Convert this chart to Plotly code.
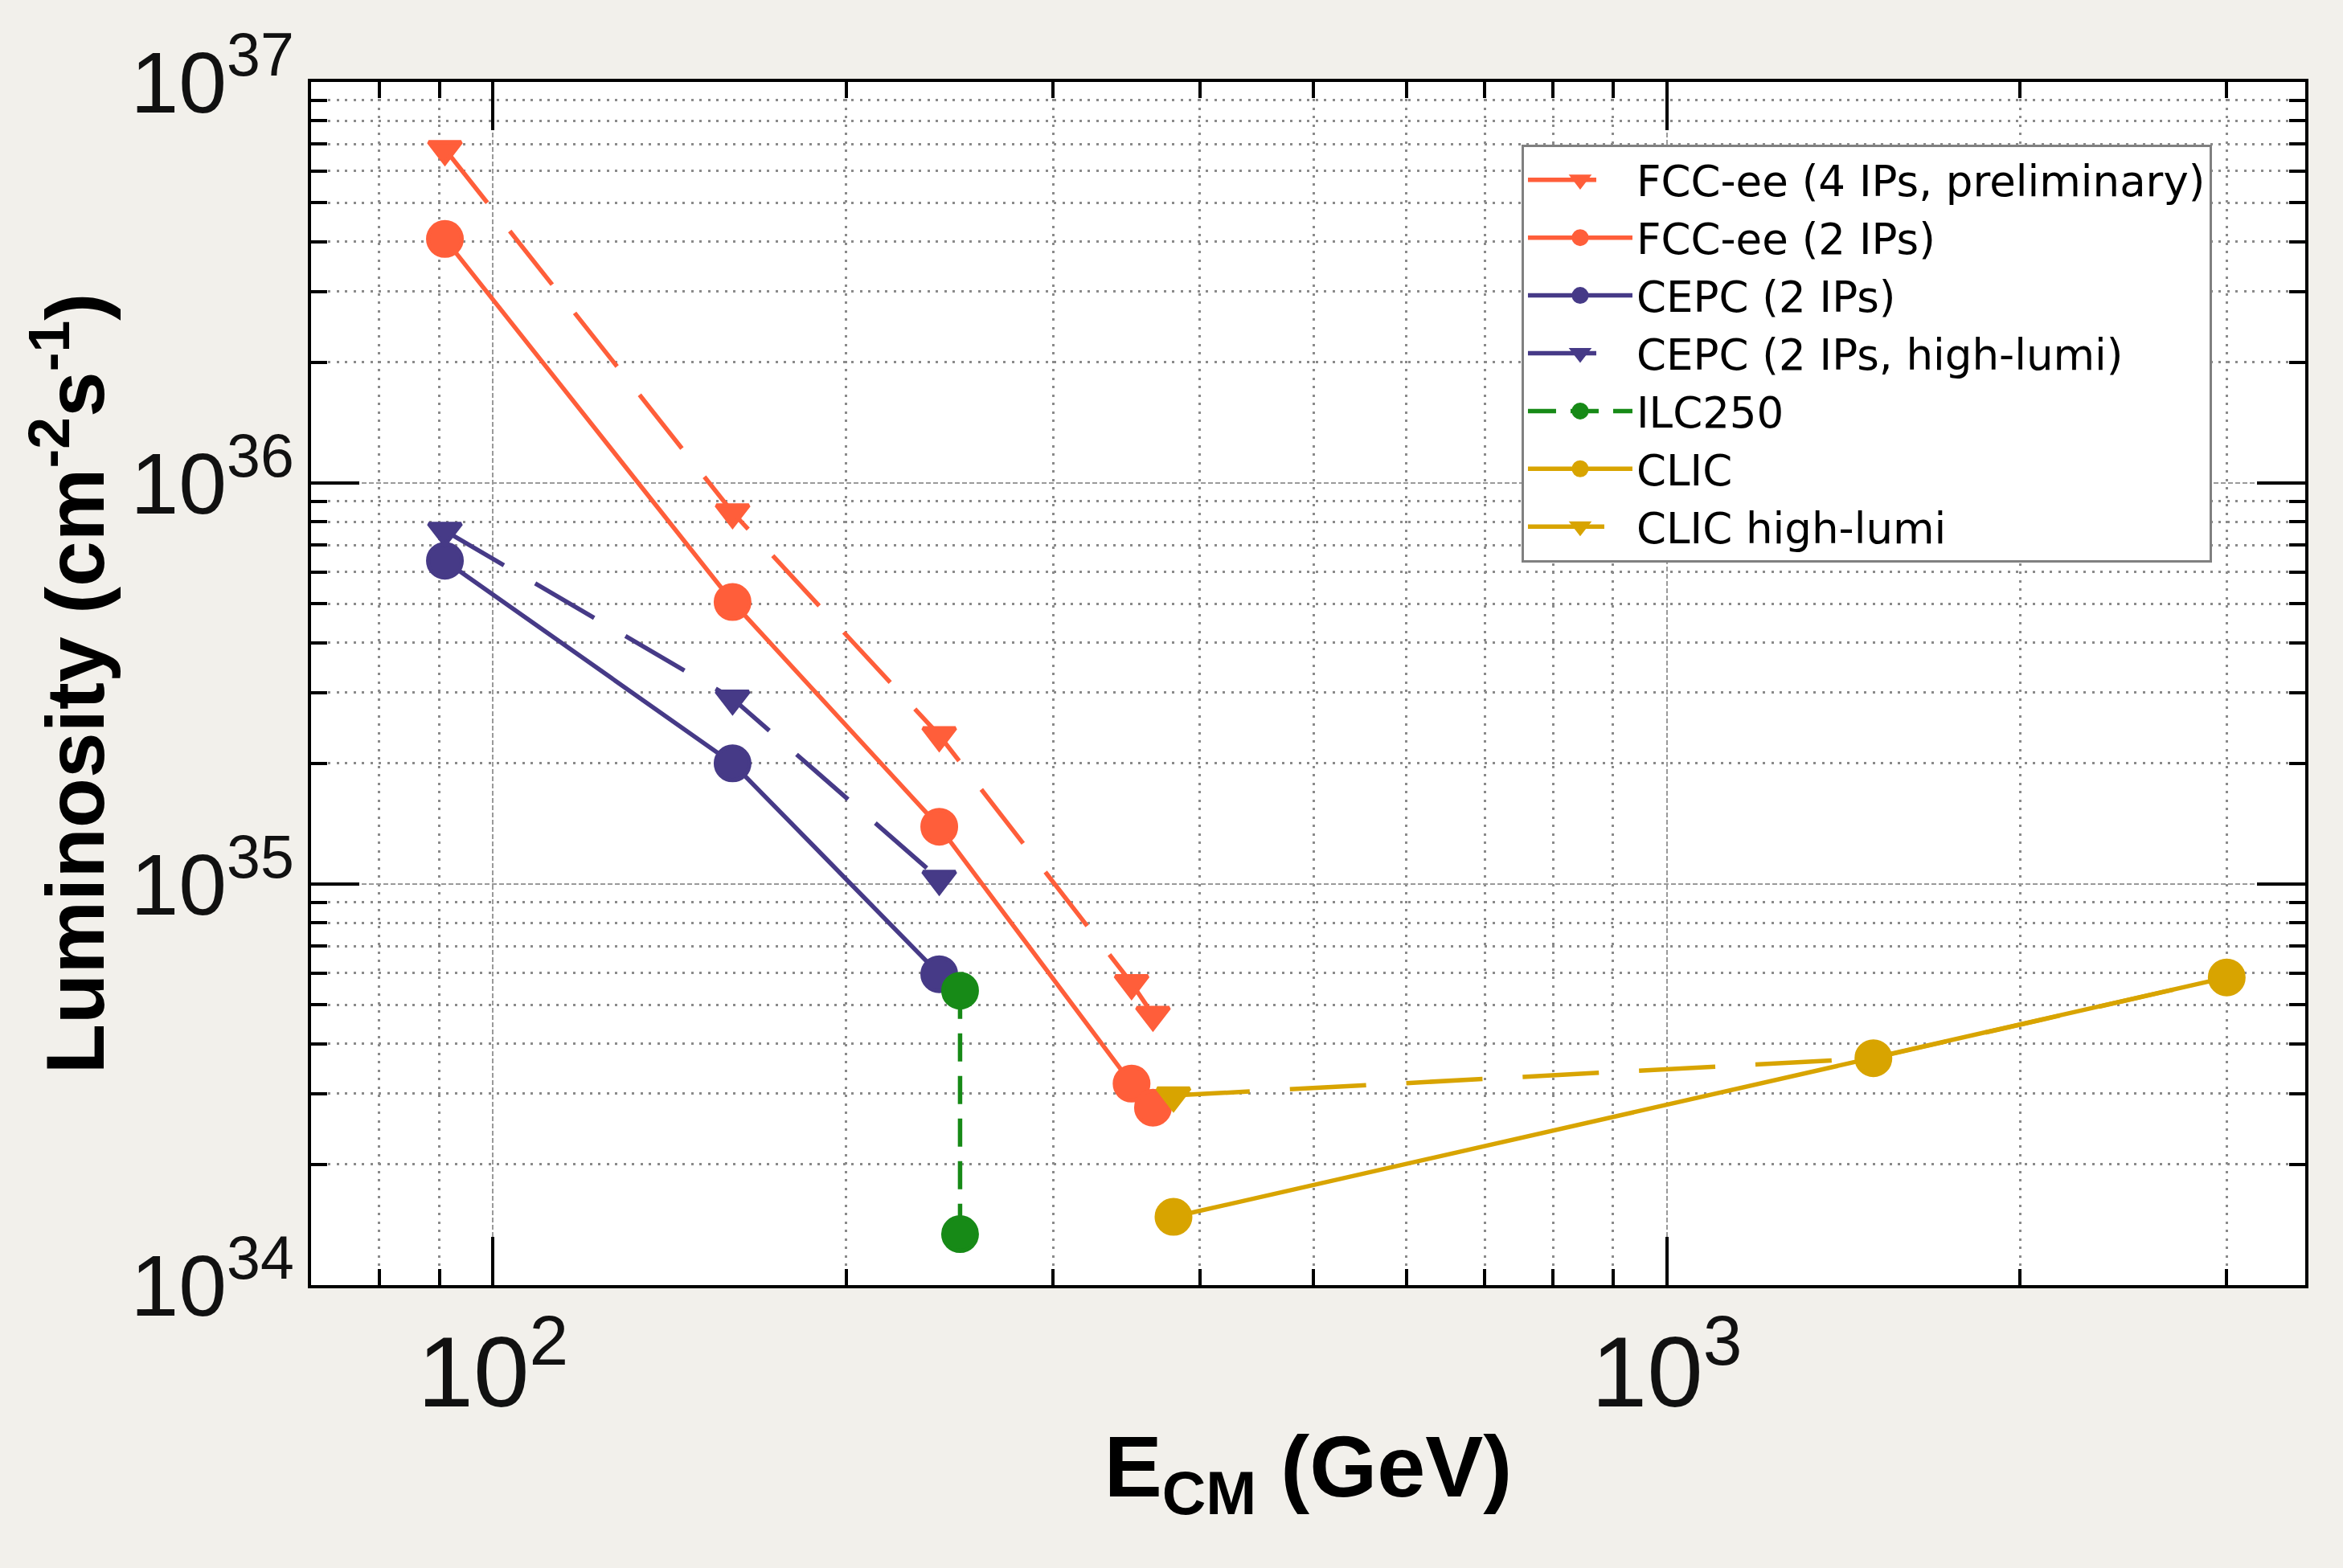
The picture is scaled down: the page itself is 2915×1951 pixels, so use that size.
import plotly.graph_objects as go

# ---- data ----
fcc4_x = [91, 160, 240, 350, 365]
fcc4_y = [6.8e36, 8.45e35, 2.35e35, 5.66e34, 4.72e34]

fcc2_x = [91, 160, 240, 350, 365]
fcc2_y = [4.06e36, 5.05e35, 1.39e35, 3.18e34, 2.77e34]

cepc_x = [91, 160, 240]
cepc_y = [6.4e35, 2.0e35, 5.96e34]

cepchl_x = [91, 160, 240]
cepchl_y = [7.6e35, 2.9e35, 1.03e35]

ilc_x = [250, 250]
ilc_y = [5.42e34, 1.34e34]

clic_x = [380, 1500, 3000]
clic_y = [1.48e34, 3.68e34, 5.85e34]

clichl_x = [380, 1500, 3000]
clichl_y = [2.97e34, 3.68e34, 5.85e34]

names = ["FCC-ee (4 IPs, preliminary)", "FCC-ee (2 IPs)", "CEPC (2 IPs)",
         "CEPC (2 IPs, high-lumi)", "ILC250", "CLIC", "CLIC high-lumi"]

RED = "#FF5E3A"
PURPLE = "#463A87"
GREEN = "#178A17"
GOLD = "#D8A400"

LW = 5.5
MLW = 5          # marker outline (same colour) -> also enlarges legend symbols
CS = 47 - MLW
TS = 40 - MLW
LONGDASH = "85px,45px"

fig = go.Figure()

def add(x, y, name, color, symbol, dash, rank, size):
    fig.add_trace(go.Scatter(
        x=x, y=y, name=name, mode="lines+markers",
        line=dict(color=color, width=LW, dash=dash),
        marker=dict(color=color, symbol=symbol, size=size,
                    line=dict(width=MLW, color=color)),
        legendrank=rank,
    ))

add(fcc4_x, fcc4_y, names[0], RED, "triangle-down", LONGDASH, 1, TS)
add(fcc2_x, fcc2_y, names[1], RED, "circle", "solid", 2, CS)
add(cepc_x, cepc_y, names[2], PURPLE, "circle", "solid", 3, CS)
add(cepchl_x, cepchl_y, names[3], PURPLE, "triangle-down", LONGDASH, 4, TS)
add(ilc_x, ilc_y, names[4], GREEN, "circle", "35px,18px", 5, CS)
add(clichl_x, clichl_y, names[6], GOLD, "triangle-down", "95px,50px", 7, TS)
add(clic_x, clic_y, names[5], GOLD, "circle", "solid", 6, CS)

FONT = "Liberation Sans, Arial, sans-serif"
GRIDC = "#8a8a8a"

common = dict(
    type="log",
    showline=True, linecolor="black", linewidth=4, mirror="allticks",
    ticks="inside", ticklen=60, tickwidth=4, tickcolor="black",
    showgrid=True, gridcolor="#9a9a9a", gridwidth=2, griddash="6px,3px",
    exponentformat="power", dtick=1,
    zeroline=False,
    minor=dict(ticks="inside", ticklen=20, tickwidth=4, tickcolor="black",
               showgrid=True, gridcolor=GRIDC, gridwidth=3, griddash="3px,7.5px",
               dtick="D1"),
)

fig.update_xaxes(**common)
fig.update_yaxes(**common)

fig.update_xaxes(
    range=[1.845, 3.544],
    ticklabelstandoff=2,
    tickfont=dict(family=FONT, size=100, color="#111111"),
    title=dict(text="E<sub>CM</sub> (GeV)",
               font=dict(family=FONT, size=108, color="black", weight="bold"),
               standoff=12),
)
fig.update_yaxes(
    range=[34, 37],
    ticklabelstandoff=0,
    tickfont=dict(family=FONT, size=86, color="#111111"),
    title=dict(text="Luminosity (cm<sup>-2</sup>s<sup>-1</sup>)",
               font=dict(family=FONT, size=102, color="black", weight="bold"),
               standoff=0),
)

fig.update_layout(
    width=2915, height=1951,
    margin=dict(l=387, r=47, t=102, b=352, autoexpand=False),
    paper_bgcolor="#F2F0EB",
    plot_bgcolor="white",
    showlegend=True,
    legend=dict(
        x=0.607, y=0.948, xanchor="left", yanchor="top",
        bgcolor="white", bordercolor="#808080", borderwidth=3,
        font=dict(family="DejaVu Sans, Verdana, sans-serif", size=53, color="black"),
        itemwidth=130, tracegroupgap=0,
    ),
)

fig.write_html("out.html")
